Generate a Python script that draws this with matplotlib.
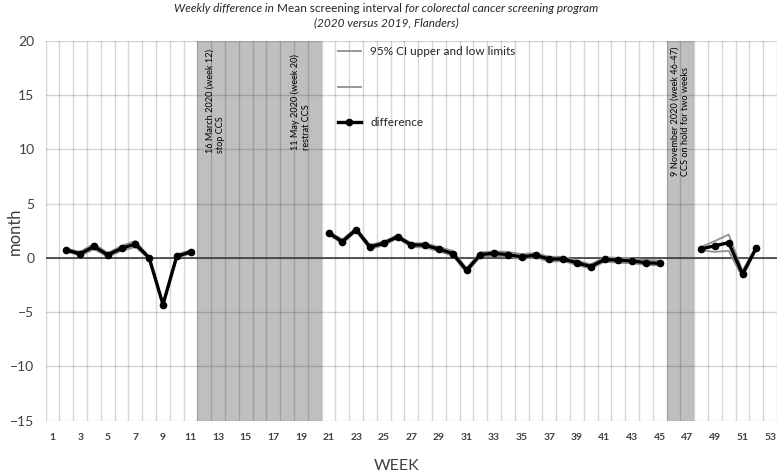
import matplotlib
matplotlib.use("Agg")
import matplotlib.pyplot as plt
from matplotlib.lines import Line2D
from matplotlib.ticker import MultipleLocator

plt.rcParams['font.family'] = ['Lato', 'DejaVu Sans']

# weeks 2-11 (before the stop)
weeks_a = [2, 3, 4, 5, 6, 7, 8, 9, 10, 11]
diff_a = [0.72, 0.37, 1.05, 0.27, 0.88, 1.28, 0.0, -4.3, 0.15, 0.55]
upper_a = [0.85, 0.55, 1.3, 0.45, 1.1, 1.55, 0.1, -4.2, 0.3, 0.7]
lower_a = [0.6, 0.2, 0.8, 0.1, 0.65, 1.0, -0.1, -4.4, 0.0, 0.4]

# weeks 21-45 (after restart)
weeks_b = list(range(21, 46))
diff_b = [2.3, 1.5, 2.6, 1.0, 1.35, 1.95, 1.2, 1.17, 0.8, 0.4, -1.15, 0.3, 0.42,
          0.3, 0.1, 0.25, -0.12, -0.1, -0.45, -0.8, -0.15, -0.22, -0.28, -0.45, -0.5]
upper_b = [2.45, 1.7, 2.75, 1.2, 1.5, 2.1, 1.35, 1.35, 1.0, 0.65, -0.95, 0.5, 0.6,
           0.55, 0.35, 0.45, 0.1, 0.1, -0.25, -0.6, 0.05, 0.0, -0.05, -0.2, -0.25]
lower_b = [2.15, 1.3, 2.45, 0.8, 1.15, 1.8, 1.0, 0.95, 0.6, 0.2, -1.35, 0.1, 0.2,
           0.1, -0.1, 0.05, -0.35, -0.3, -0.65, -1.0, -0.35, -0.45, -0.5, -0.65, -0.7]

# weeks 48-52
weeks_c = [48, 49, 50, 51, 52]
diff_c = [0.82, 1.12, 1.4, -1.5, 0.92]
upper_c = [1.0, 1.55, 2.15, -1.2, 1.05]
lower_c = [0.7, 0.55, 0.65, -1.8, 0.8]

periods = [(11.5, 20.5), (45.5, 47.5)]
notes = [(12.8, 9.7, "16 March 2020 (week 12)\nstop CCS"),
         (19.0, 9.9, "11 May 2020 (week 20)\nrestrat CCS"),
         (46.5, 7.5, "9 November 2020 (week 46-47)\nCCS on hold for two weeks")]

fig = plt.figure(figsize=(7.77, 4.72), dpi=100)
ax = fig.add_axes([0.0588, 0.1087, 0.9412, 0.805])

ci_col = '#8f8f8f'
for w, d, u, l in [(weeks_a, diff_a, upper_a, lower_a),
                   (weeks_b, diff_b, upper_b, lower_b),
                   (weeks_c, diff_c, upper_c, lower_c)]:
    ax.plot(w, u, color=ci_col, lw=1.3, zorder=3)
    ax.plot(w, l, color=ci_col, lw=1.3, zorder=3)
    ax.plot(w, d, color='black', lw=2.4, marker='o', ms=4.5, zorder=4)

for a, b in periods:
    ax.axvspan(a, b, color='#bfbfbf', lw=0, zorder=0.3)

for x, y, t in notes:
    ax.text(x, y, t, rotation=90, ha='center', va='bottom', fontsize=6.6,
            color='black', linespacing=1.3, multialignment='left', zorder=5)

ax.axhline(0, color='#3a3a3a', lw=1.2, zorder=2)

ax.set_xlim(0.5, 53.5)
ax.set_ylim(-15, 20)
ax.set_xticks(range(1, 54, 2))
ax.xaxis.set_minor_locator(MultipleLocator(1, offset=0.5))
ax.yaxis.set_major_locator(MultipleLocator(5))
ax.set_axisbelow(True)
ax.grid(which='minor', axis='x', color='black', alpha=0.16, lw=1.0)
ax.grid(which='major', axis='y', color='black', alpha=0.16, lw=1.0)
ax.tick_params(which='both', length=0)
ax.tick_params(axis='x', labelsize=7.5, colors='#404040', pad=9)
ax.tick_params(axis='y', labelsize=10, colors='#404040', pad=8)
for lbl in ax.get_xticklabels():
    lbl.set_fontweight('bold')
for s in ax.spines.values():
    s.set_visible(False)

fig.text(15 / 777, 1 - 231 / 472, 'month', rotation=90, fontsize=12,
         color='#404040', ha='center', va='center')
fig.text(397 / 777, 1 - 466 / 472, 'WEEK', fontsize=11.5, color='#404040',
         ha='center', va='center')

handles = [Line2D([], [], color=ci_col, lw=1.3),
           Line2D([], [], color=ci_col, lw=1.3),
           Line2D([], [], color='black', lw=2.4, marker='o', ms=4.5)]
ax.legend(handles, ['95% CI upper and low limits', ' ', 'difference'],
          loc='upper left', bbox_to_anchor=(0.4, 0.985), frameon=False,
          fontsize=8.5, handlelength=1.9, handletextpad=0.8, labelspacing=2.05,
          borderpad=0, borderaxespad=0, labelcolor='#262626')

# title in mixed styles
pieces = [('Weekly difference in ', 'italic'),
          ('Mean screening interval ', 'normal'),
          ('for colorectal cancer screening program', 'italic')]
r = fig.canvas.get_renderer()
texts = [fig.text(0, 0.982, p, style=s, fontsize=8.5, color='#262626', va='center')
         for p, s in pieces]
widths = [t.get_window_extent(r).width for t in texts]
x0 = 386 - sum(widths) / 2
for t, wd in zip(texts, widths):
    t.set_x(x0 / 777)
    x0 += wd
fig.text(386 / 777, 0.952, '(2020 versus 2019, Flanders)', style='italic',
         fontsize=8.5, color='#262626', ha='center', va='center')

fig.savefig('out.png', dpi=100)
